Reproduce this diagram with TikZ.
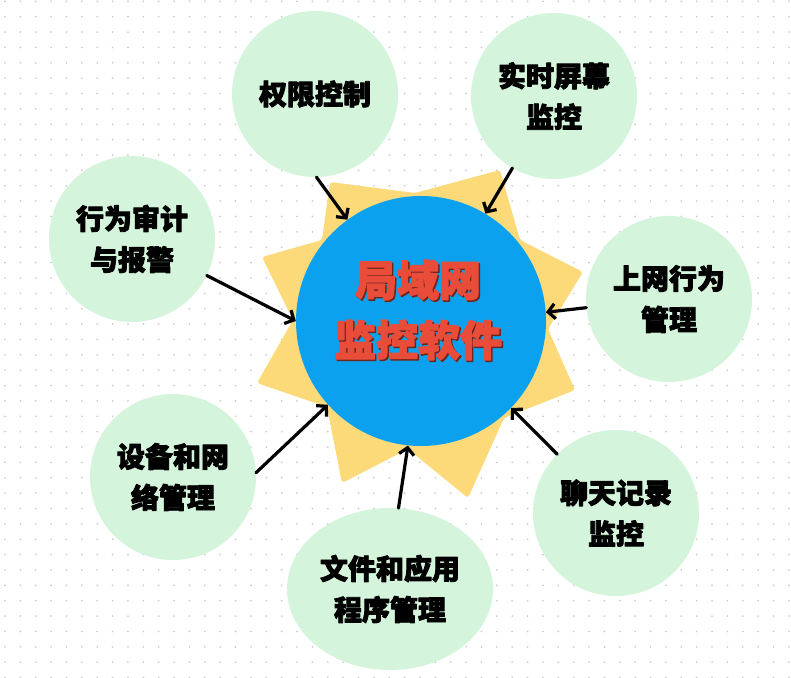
\documentclass[tikz,border=0pt]{standalone}
\usepackage{fontspec}
\newfontfamily\cjk{Noto Sans CJK SC}[BoldFeatures={FakeBold=3}]
\usetikzlibrary{arrows.meta,shapes.geometric}
\definecolor{bubblegreen}{RGB}{212,245,219}
\definecolor{hubblue}{RGB}{12,161,238}
\definecolor{sunyellow}{RGB}{252,218,122}
\definecolor{titlered}{RGB}{234,76,58}
\definecolor{titleshade}{RGB}{110,38,28}
\definecolor{griddot}{RGB}{205,205,205}

\begin{document}
\begin{tikzpicture}[line cap=round,line join=round,x=1pt,y=-1pt,
	bubble/.style={circle,fill=bubblegreen,minimum size=166pt,inner sep=0pt,align=center,
		font=\cjk\bfseries\fontsize{28}{41}\selectfont},
	feed/.style={line width=3.2pt,-{Straight Barb[length=7pt,width=15pt]}},
	titletext/.style={align=center,font=\cjk\bfseries\fontsize{42}{60}\selectfont}]
		\useasboundingbox (0,0) rectangle (791,677);
		\fill[white] (0,0) rectangle (791,677);
		\foreach \i in {0,...,51}
			\foreach \j in {0,...,44}
				\fill[griddot] (5+15.37*\i,1.3+15.37*\j) circle (1pt);
		% sun behind the hub
		\fill[sunyellow,rounded corners=3pt] (583,272)--(520,240)--(500,170)--(415,193)--(330,182)--(322,240)
			--(262,257)--(293,320)--(257,383)--(327,407)--(342,483)--(408,449)--(468,498)--(504,418)
			--(575,390)--(548,329)--cycle;
		\node[circle,fill=hubblue,minimum size=250pt] (hub) at (421,321) {};
		\node[titletext,text=titleshade] at ([xshift=-1.5pt,yshift=9.5pt]hub.center) {局域网\\监控软件};
		\node[titletext,text=titlered] (title) at ([xshift=-3pt,yshift=11pt]hub.center) {局域网\\监控软件};
		% topics
		\node[bubble] (perm) at (315,94) {权限控制};
		\node[bubble] (screen) at (554,96) {实时屏幕\\监控};
		\node[bubble] (audit) at (132,239) {行为审计\\与报警};
		\node[bubble] (web) at (669,299) {上网行为\\管理};
		\node[bubble] (chat) at (616,513) {聊天记录\\监控};
		\node[bubble] (device) at (173,477) {设备和网\\络管理};
		\node[bubble,ellipse,minimum width=206pt,minimum height=162pt] (files) at (390,589) {文件和应用\\程序管理};
		% arrows into the hub
		\draw[feed] (perm.-89) -- (hub.126);
		\draw[feed] (screen.240) -- (hub.59);
		\draw[feed] (audit.-26) -- (hub.180);
		\draw[feed] (web.186) -- (hub.4);
		\draw[feed] (chat.135) -- (hub.-44);
		\draw[feed] (files.84) -- (hub.-96);
		\draw[feed] (device.3) -- (hub.222);
	\end{tikzpicture}
\end{document}
